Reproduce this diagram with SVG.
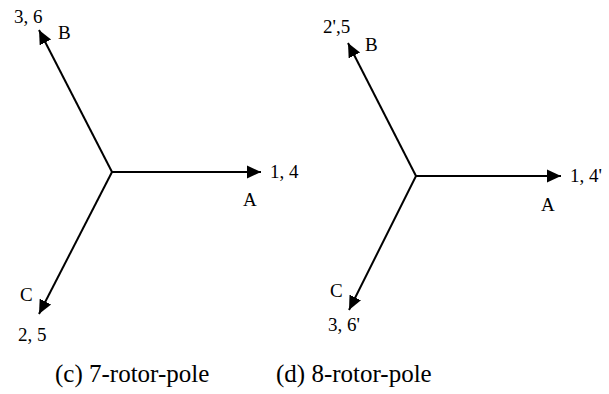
<svg xmlns="http://www.w3.org/2000/svg" width="609" height="394" viewBox="0 0 609 394">
  <style>
    .axis { stroke: #000; stroke-width: 2; fill: none; marker-end: url(#head); }
    .lbl { font-family: "Liberation Serif", "Times New Roman", serif; font-size: 19px; fill: #000; }
    .cap { font-family: "Liberation Serif", "DejaVu Serif", serif; font-size: 25px; fill: #000; }
  </style>
  <defs>
    <marker id="head" markerWidth="8" markerHeight="8" refX="7" refY="4" orient="auto" markerUnits="strokeWidth">
      <path d="M0,0.8 L7,4 L0,7.2 Z" fill="#000"/>
    </marker>
  </defs>

  <g id="connectors">
    <line class="axis" x1="112" y1="172" x2="261" y2="172"/>
    <line class="axis" x1="112" y1="172" x2="39" y2="30"/>
    <line class="axis" x1="112" y1="172" x2="39" y2="314"/>
    <line class="axis" x1="416" y1="176" x2="561" y2="176"/>
    <line class="axis" x1="416" y1="176" x2="348" y2="43"/>
    <line class="axis" x1="416" y1="176" x2="349" y2="310"/>
  </g>

  <g id="phase-a-7">
    <text class="lbl" x="270" y="178">1, 4</text>
    <text class="lbl" x="243" y="206">A</text>
  </g>
  <g id="phase-b-7">
    <text class="lbl" x="14" y="23">3, 6</text>
    <text class="lbl" x="58" y="39">B</text>
  </g>
  <g id="phase-c-7">
    <text class="lbl" x="20" y="301">C</text>
    <text class="lbl" x="18" y="341">2, 5</text>
  </g>

  <g id="phase-a-8">
    <text class="lbl" x="570" y="182">1, 4'</text>
    <text class="lbl" x="541" y="211">A</text>
  </g>
  <g id="phase-b-8">
    <text class="lbl" x="323" y="33">2',5</text>
    <text class="lbl" x="365" y="51">B</text>
  </g>
  <g id="phase-c-8">
    <text class="lbl" x="330" y="297">C</text>
    <text class="lbl" x="328" y="331">3, 6'</text>
  </g>

  <g id="captions">
    <text class="cap" x="55" y="382">(c) 7-rotor-pole</text>
    <text class="cap" x="276" y="382">(d) 8-rotor-pole</text>
  </g>
</svg>
